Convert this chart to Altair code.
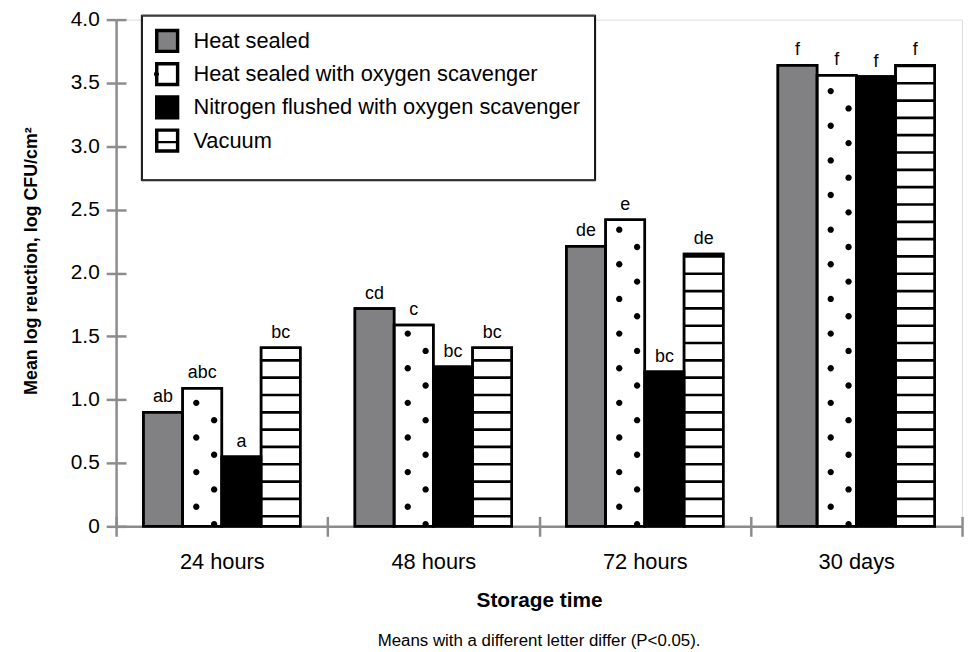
import altair as alt
import pandas as pd

# ---------------- data ----------------
categories = ["24 hours", "48 hours", "72 hours", "30 days"]
series = ["Heat sealed", "Heat sealed with oxygen scavenger",
          "Nitrogen flushed with oxygen scavenger", "Vacuum"]
heat_sealed = [0.90, 1.72, 2.21, 3.64]
heat_sealed_o2 = [1.09, 1.59, 2.42, 3.56]
nitrogen_o2 = [0.55, 1.26, 1.22, 3.55]
vacuum = [1.41, 1.41, 2.15, 3.64]
letters_hs = ["ab", "cd", "de", "f"]
letters_hso = ["abc", "c", "e", "f"]
letters_n = ["a", "bc", "bc", "f"]
letters_v = ["bc", "bc", "de", "f"]
y_ticks = [0, 0.5, 1.0, 1.5, 2.0, 2.5, 3.0, 3.5, 4.0]

# ---------------- pattern / style constants ----------------
PATTERN_STEP = 0.1367   # spacing of dots / stripes in data units
DOT_START = 0.018
STRIPE_START = 0.08
STRIPE_HALF = 0.0105
GRAY = "#818184"
AXIS_GRAY = "#8c8c8c"
FONT = "Liberation Sans"

values = [heat_sealed, heat_sealed_o2, nitrogen_o2, vacuum]
letters = [letters_hs, letters_hso, letters_n, letters_v]
rows = []
for s, vals, labs in zip(series, values, letters):
    for c, v, l in zip(categories, vals, labs):
        rows.append({"category": c, "series": s, "value": v, "letter": l})
df = pd.DataFrame(rows)

# dot pattern for the oxygen-scavenger bars (staggered lattice)
dots_a, dots_b = [], []
for c, v in zip(categories, heat_sealed_o2):
    k = 0
    while DOT_START + PATTERN_STEP * k <= v + 0.01:
        rec = {"category": c, "series": series[1], "y": DOT_START + PATTERN_STEP * k}
        (dots_b if k % 2 == 0 else dots_a).append(rec)
        k += 1
dots_a = pd.DataFrame(dots_a)
dots_b = pd.DataFrame(dots_b)

# stripe pattern for the vacuum bars
stripes = []
for c, v in zip(categories, vacuum):
    k = 0
    while STRIPE_START + PATTERN_STEP * k + STRIPE_HALF <= v + 0.006:
        m = STRIPE_START + PATTERN_STEP * k
        stripes.append({"category": c, "series": series[3], "lo": m - STRIPE_HALF, "hi": m + STRIPE_HALF})
        k += 1
stripes = pd.DataFrame(stripes)

# ---------------- scales ----------------
x_scale = alt.Scale(domain=categories, paddingInner=0, paddingOuter=0)
xo_scale = alt.Scale(domain=series, paddingInner=0, paddingOuter=0.696)
y_scale = alt.Scale(domain=[0, 4], nice=False, zero=True)
bar_color_scale = alt.Scale(range=[GRAY, "white", "black", "white"])

# legend overlay symbols: black frame (+ dot / stripe) drawn as filled paths
FRAME = "M-1,-1H1V1H-1Z M-0.8,-0.8V0.8H0.8V-0.8Z"
DOT_MARK = " M-1.22,0A0.24,0.24 0 1,1 -0.74,0A0.24,0.24 0 1,1 -1.22,0Z"
STRIPE_MARK = " M-0.85,0.04H0.85V0.25H-0.85Z"
frame_scale = alt.Scale(domain=series, range=[FRAME, FRAME + DOT_MARK, FRAME, FRAME + STRIPE_MARK])

DOT_A = "M-0.92,0A0.32,0.32 0 1,0 -0.28,0A0.32,0.32 0 1,0 -0.92,0Z"
DOT_B = "M0.88,0A0.32,0.32 0 1,0 1.52,0A0.32,0.32 0 1,0 0.88,0Z"

# ---------------- axes ----------------
y_axis_main = alt.Axis(
    values=y_ticks,
    labelExpr="datum.value == 0 ? '0' : format(datum.value, '.1f')",
    title="Mean log reuction, log CFU/cm²",
    domainColor=AXIS_GRAY, domainWidth=2.5,
    tickColor=AXIS_GRAY, tickWidth=2.5, tickSize=10,
    labelPadding=7, labelFontSize=21, labelColor="black", labelFont=FONT,
    titleFontSize=18, titleFontWeight="bold", titleColor="black", titleFont=FONT,
    titleX=-80, titleY=243, titleBaseline="alphabetic", titleAngle=270,
    grid=False,
)
y_axis_in = alt.Axis(
    orient="left", offset=-10, values=y_ticks, domain=False, labels=False,
    title=None, tickColor=AXIS_GRAY, tickWidth=2.5, tickSize=10, grid=False,
)
x_axis_main = alt.Axis(
    title="Storage time", labelAngle=0, tickBand="extent",
    tickSize=10, tickColor=AXIS_GRAY, tickWidth=2.5,
    domainColor=AXIS_GRAY, domainWidth=2.5,
    labelFontSize=22, labelBaseline="alphabetic", labelPadding=33,
    labelColor="black", labelFont=FONT,
    titleFontSize=21, titleFontWeight="bold", titleColor="black", titleFont=FONT,
    titleY=81, titleBaseline="alphabetic", grid=False,
)
x_axis_in = alt.Axis(
    orient="bottom", offset=-10, domain=False, labels=False, title=None,
    tickBand="extent", tickSize=10, tickColor=AXIS_GRAY, tickWidth=2.5, grid=False,
)

XO = alt.XOffset("series:N", scale=xo_scale)
X_none = alt.X("category:N", scale=x_scale, axis=None)

color_legend = alt.Legend(
    title=" ", titleOrient="bottom", titleFontSize=6, titlePadding=4,
    orient="none", legendX=26, legendY=-4,
    symbolSize=484, symbolStrokeColor="black", symbolStrokeWidth=2.5,
    symbolOpacity=1, labelFontSize=22, labelFont=FONT, labelColor="black",
    labelLimit=600, labelOffset=14, rowPadding=0.5, padding=13,
    strokeColor="black", fillColor="white", zindex=0,
)
frame_legend = alt.Legend(
    title=" ", titleOrient="bottom", titleFontSize=6, titlePadding=4,
    orient="none", legendX=25, legendY=-5,
    symbolSize=484, symbolStrokeColor="transparent", symbolStrokeWidth=2.5,
    symbolFillColor="black", symbolOpacity=1,
    labelFontSize=22, labelFont=FONT, labelColor="black", labelOpacity=0,
    labelLimit=600, labelOffset=14, rowPadding=0.5, padding=14,
    strokeColor="black", zindex=1,
)

base = alt.Chart(df)

bars = base.mark_bar(stroke="black", strokeWidth=2.5).encode(
    x=alt.X("category:N", scale=x_scale, axis=x_axis_main, title="Storage time"),
    xOffset=XO,
    y=alt.Y("value:Q", scale=y_scale, axis=y_axis_main),
    color=alt.Color("series:N", scale=bar_color_scale, sort=series, legend=color_legend),
)

stripe_layer = alt.Chart(stripes).mark_bar(color="black").encode(
    x=X_none, xOffset=XO,
    y=alt.Y("lo:Q", scale=y_scale, axis=None), y2="hi:Q",
)

dots_a_layer = alt.Chart(dots_a).mark_point(
    shape=DOT_A, size=400, filled=True, fill="black", opacity=1, strokeWidth=0
).encode(x=X_none, xOffset=XO, y=alt.Y("y:Q", scale=y_scale, axis=None))

dots_b_layer = alt.Chart(dots_b).mark_point(
    shape=DOT_B, size=400, filled=True, fill="black", opacity=1, strokeWidth=0
).encode(x=X_none, xOffset=XO, y=alt.Y("y:Q", scale=y_scale, axis=None))

outline = base.mark_bar(fill="transparent", stroke="black", strokeWidth=2.5).encode(
    x=alt.X("category:N", scale=x_scale, axis=x_axis_in),
    xOffset=XO,
    y=alt.Y("value:Q", scale=y_scale, axis=y_axis_in),
)

text = base.mark_text(dy=-10, fontSize=18, baseline="alphabetic", color="black", font=FONT).encode(
    x=X_none, xOffset=XO,
    y=alt.Y("value:Q", scale=y_scale, axis=None),
    text="letter:N",
)

legend_layer = base.mark_point(filled=True, color="black", opacity=0, strokeWidth=2.5).encode(
    x=X_none, xOffset=XO,
    y=alt.Y("value:Q", scale=y_scale, axis=None),
    shape=alt.Shape("series:N", scale=frame_scale, legend=frame_legend),
)

chart = alt.layer(
    bars, stripe_layer, dots_a_layer, dots_b_layer, outline, text, legend_layer
).resolve_axis(x="independent", y="independent").properties(
    width=853, height=511,
    autosize=alt.AutoSizeParams(type="none"),
    padding={"left": 109, "top": 9, "right": 4, "bottom": 122},
    title=alt.Title(
        "Means with a different letter differ (P<0.05).",
        orient="bottom", anchor="middle", fontSize=17, fontWeight="normal",
        color="black", font=FONT, offset=23,
    ),
).configure_view(strokeWidth=0).configure(font=FONT)

chart.save("out.html", embed_options={"renderer": "svg", "actions": False})
